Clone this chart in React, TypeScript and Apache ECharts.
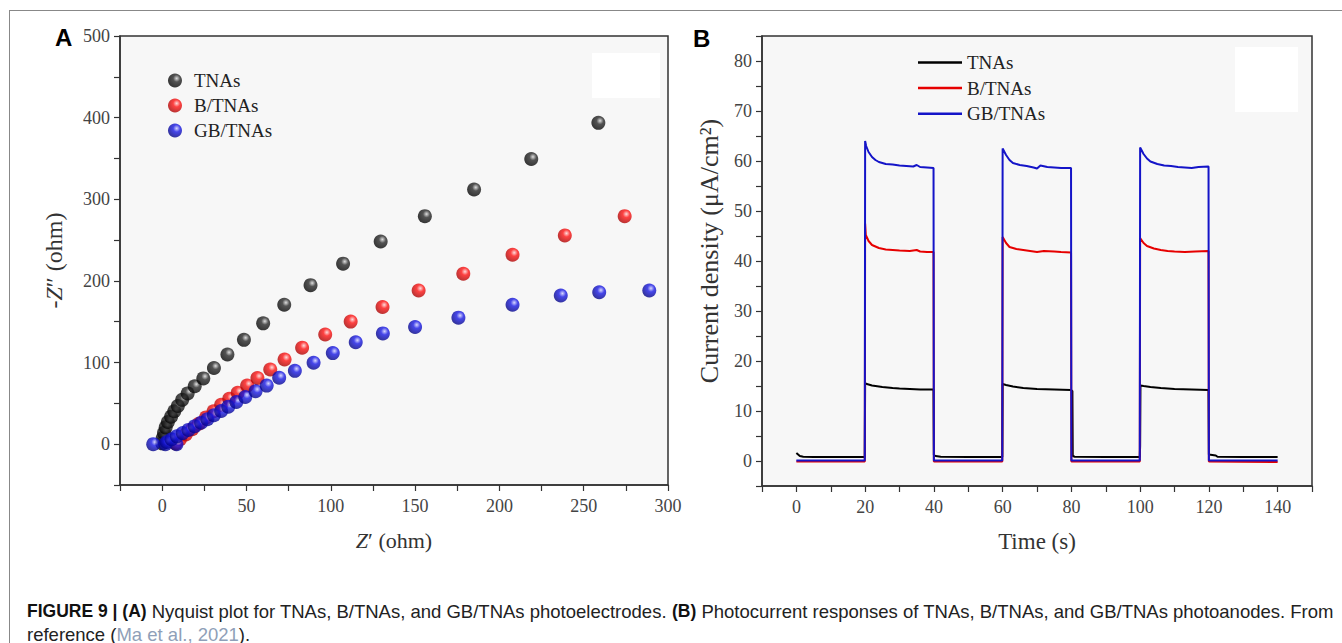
import React, { useEffect, useRef } from 'react';
import * as echarts from 'echarts';

const SERIF = '"Liberation Serif", "Times New Roman", serif';
const SANS = '"Liberation Sans", Arial, sans-serif';

// ---------- Panel A: Nyquist data [Z', -Z''] ----------
const nyqTNAs: [number, number][] = [
  [0, 1], [0.3, 7.4], [1.1, 14], [2.1, 20.6], [3.4, 27.1], [5.3, 33.7], [7.2, 40.3], [9.3, 46.8],
  [11.9, 54.3], [15.1, 62.2], [19.3, 70.9], [24.4, 80.6], [30.7, 93.3], [38.7, 109.9], [48.5, 127.8],
  [59.9, 148], [72.4, 170.8], [88, 194.8], [107.3, 221.1], [129.6, 248.2], [155.8, 279.3], [185, 312],
  [218.9, 349.4], [258.7, 393.6],
];
const nyqBTNAs: [number, number][] = [
  [8, 0.9], [10.6, 6.1], [14, 11.8], [17.8, 18.4], [21.7, 25], [26, 32.8], [30.5, 40.3], [35, 48.2],
  [39.8, 55.6], [44.8, 63], [50.4, 71.8], [56.5, 81], [64.1, 91.5], [72.6, 103.8], [83, 118.2],
  [96.7, 134.4], [111.8, 150.2], [130.7, 168.1], [152.1, 188.3], [178.6, 208.8], [207.8, 232],
  [238.8, 255.7], [274.3, 279.3],
];
const nyqGBTNAs: [number, number][] = [
  [-5.3, 0], [1.9, 0], [8.5, 0], [2.7, 2.6], [5.6, 6.1], [8.7, 9.6], [12.2, 13.6], [15.6, 17.5],
  [19.3, 21.9], [23.1, 26.3], [26.8, 30.6], [30.7, 35.5], [35, 40.7], [39.2, 46], [44, 51.7],
  [49.3, 57.8], [55.4, 64.8], [62, 71.8], [69.4, 81.4], [78.7, 89.8], [89.8, 99.8], [101.2, 111.6],
  [114.8, 124.8], [130.9, 135.7], [150, 143.6], [175.7, 155], [207.8, 170.8], [236.4, 182.1],
  [259.2, 186.1], [288.9, 188.3],
];

// ---------- Panel B: photocurrent [time s, µA/cm²] ----------
const curTNAs: [number, number][] = [
  [0, 1.6], [0.5, 1.3], [1, 1.0], [2, 0.85], [5, 0.8], [10, 0.8], [15, 0.8], [19.9, 0.8],
  [20, 15.6], [20.5, 15.4], [22, 15.1], [25, 14.8], [28, 14.6], [30, 14.5], [33, 14.4], [36, 14.3], [39.9, 14.3],
  [40, 1.2], [40.5, 1.0], [42, 0.85], [50, 0.8], [59.9, 0.8],
  [60, 15.4], [61, 15.2], [63, 14.9], [66, 14.6], [70, 14.4], [75, 14.3], [79.9, 14.2],
  [80.3, 14.0], [80.4, 1.0], [81, 0.85], [90, 0.8], [99.9, 0.8],
  [100, 3.0], [100.1, 15.1], [101, 15.0], [103, 14.8], [106, 14.6], [110, 14.4], [115, 14.3], [119.9, 14.2],
  [120, 1.3], [121, 1.2], [122, 1.1], [122.5, 0.85], [130, 0.8], [140, 0.8],
];
const curBTNAs: [number, number][] = [
  [0, -0.1], [19.9, -0.1],
  [20, 47.5], [20.2, 45.2], [21, 44], [22, 43.2], [24, 42.6], [26, 42.3], [28, 42.2], [30, 42.1],
  [33, 42.0], [35, 42.2], [36, 41.9], [38, 41.8], [39.9, 41.8],
  [40, -0.1], [59.9, -0.1],
  [60, 44.8], [61, 43.6], [62, 42.8], [64, 42.4], [66, 42.2], [68, 42.0], [70, 41.8], [72, 42.0],
  [75, 41.9], [77, 41.8], [79.9, 41.7],
  [80, -0.1], [99.9, -0.1],
  [100, 44.6], [101, 43.6], [102, 43.0], [104, 42.5], [106, 42.2], [108, 42.0], [110, 41.9],
  [113, 41.8], [116, 41.9], [119.9, 42.0],
  [120, -0.1], [140, -0.2],
];
const curGBTNAs: [number, number][] = [
  [0, 0.1], [19.9, 0.1],
  [20, 64], [20.3, 63], [21, 61.8], [22, 60.8], [23, 60.2], [24, 59.8], [26, 59.4], [28, 59.3],
  [30, 59.1], [32, 59.0], [34, 58.9], [35, 59.2], [36, 58.8], [38, 58.7], [39.9, 58.6],
  [40, 0.1], [59.9, 0.1],
  [60, 62.5], [61, 61.2], [62, 60.2], [63, 59.6], [65, 59.2], [67, 59.0], [69, 58.7], [70, 58.5],
  [71, 59.1], [73, 58.8], [75, 58.7], [77, 58.6], [79.9, 58.6],
  [80, 0.1], [99.9, 0.1],
  [100, 62.7], [101, 61.4], [102, 60.5], [103, 59.9], [105, 59.4], [107, 59.1], [109, 59.0],
  [111, 58.8], [113, 58.7], [115, 58.6], [117, 58.8], [119.9, 58.9],
  [120, 0.1], [140, 0.1],
];

const seriesNames = ['TNAs', 'B/TNAs', 'GB/TNAs'];

const sphere = (light: string, base: string, dark: string) => ({
  type: 'radial', x: 0.62, y: 0.35, r: 0.72,
  colorStops: [
    { offset: 0, color: light },
    { offset: 0.35, color: base },
    { offset: 1, color: dark },
  ],
});

const axisCommon = {
  axisLine: { show: true, onZero: false, lineStyle: { color: '#333', width: 1.5 } },
  axisTick: { show: true, length: 6, lineStyle: { color: '#333', width: 1.2 } },
  splitLine: { show: false },
};
const labelStyle = { color: '#444', fontFamily: SERIF, fontSize: 18 };
const nameStyle = (size: number) => ({
  fontFamily: SERIF, fontSize: size, color: '#333',
  rich: { i: { fontStyle: 'italic', fontFamily: SERIF, fontSize: size, color: '#333' } },
});

export default function App() {
  const ref = useRef<HTMLDivElement>(null);
  useEffect(() => {
    document.body.style.margin = '0';
    const chart = echarts.init(ref.current!, undefined, { renderer: 'svg', width: 1342, height: 643 });
    const option: any = {
      animation: false,
      backgroundColor: '#fff',
      grid: [
        { left: 120, right: 674, top: 36, bottom: 158, show: true, backgroundColor: '#f7f7f7', borderColor: '#333', borderWidth: 1.5 },
        { left: 762, right: 30, top: 36, bottom: 157, show: true, backgroundColor: '#f7f7f7', borderColor: '#333', borderWidth: 1.5 },
      ],
      xAxis: [
        {
          gridIndex: 0, type: 'value', min: -25, max: 300, interval: 25, ...axisCommon,
          axisLabel: { ...labelStyle, margin: 12, formatter: (v: number) => (v % 50 === 0 && v >= 0 ? String(v) : '') },
          name: '{i|Z}′ (ohm)', nameLocation: 'middle', nameGap: 44, nameTextStyle: nameStyle(22),
        },
        {
          gridIndex: 1, type: 'value', min: -10, max: 150, interval: 10, ...axisCommon,
          axisLabel: { ...labelStyle, margin: 12, formatter: (v: number) => (v % 20 === 0 && v >= 0 && v <= 140 ? String(v) : '') },
          name: 'Time (s)', nameLocation: 'middle', nameGap: 44, nameTextStyle: nameStyle(23),
        },
      ],
      yAxis: [
        {
          gridIndex: 0, type: 'value', min: -50, max: 500, interval: 50, ...axisCommon,
          axisLabel: { ...labelStyle, margin: 10, formatter: (v: number) => (v % 100 === 0 && v >= 0 ? String(v) : '') },
          name: '-{i|Z}″ (ohm)', nameLocation: 'middle', nameGap: 54, nameTextStyle: nameStyle(24),
        },
        {
          gridIndex: 1, type: 'value', min: -5, max: 85, interval: 5, ...axisCommon,
          axisLabel: { ...labelStyle, margin: 10, formatter: (v: number) => (v % 10 === 0 && v >= 0 && v <= 80 ? String(v) : '') },
          name: 'Current density (μA/cm²)', nameLocation: 'middle', nameGap: 40,
          nameTextStyle: { ...nameStyle(26), padding: [0, 0, 0, 20] },
        },
      ],
      legend: [
        {
          data: seriesNames.map((n) => 'A:' + n), orient: 'vertical', left: 168, top: 71, padding: 0,
          itemWidth: 14, itemHeight: 14, itemGap: 6, icon: 'circle',
          formatter: (n: string) => n.slice(2),
          textStyle: { fontFamily: SERIF, fontSize: 19, lineHeight: 19, color: '#222', padding: [0, 0, 0, 7] },
        },
        {
          data: seriesNames.map((n) => 'B:' + n), orient: 'vertical', left: 918, top: 53, padding: 0,
          itemWidth: 44, itemHeight: 2.5, itemGap: 6.6, icon: 'rect',
          formatter: (n: string) => n.slice(2),
          textStyle: { fontFamily: SERIF, fontSize: 19, lineHeight: 19, color: '#222' },
        },
      ],
      series: [
        { name: 'A:TNAs', type: 'scatter', xAxisIndex: 0, yAxisIndex: 0, data: nyqTNAs, symbolSize: 14, itemStyle: { color: sphere('#d8d8d8', '#2a2a2a', '#000') } },
        { name: 'A:B/TNAs', type: 'scatter', xAxisIndex: 0, yAxisIndex: 0, data: nyqBTNAs, symbolSize: 14, itemStyle: { color: sphere('#ffd6d6', '#ff1414', '#a00000') } },
        { name: 'A:GB/TNAs', type: 'scatter', xAxisIndex: 0, yAxisIndex: 0, data: nyqGBTNAs, symbolSize: 14, itemStyle: { color: sphere('#d0d0ff', '#1a1ae6', '#00007a') } },
        { name: 'B:TNAs', type: 'line', xAxisIndex: 1, yAxisIndex: 1, data: curTNAs, symbol: 'none', lineStyle: { color: '#000', width: 2 }, itemStyle: { color: '#000' } },
        { name: 'B:B/TNAs', type: 'line', xAxisIndex: 1, yAxisIndex: 1, data: curBTNAs, symbol: 'none', lineStyle: { color: '#e60000', width: 2 }, itemStyle: { color: '#e60000' } },
        { name: 'B:GB/TNAs', type: 'line', xAxisIndex: 1, yAxisIndex: 1, data: curGBTNAs, symbol: 'none', lineStyle: { color: '#1414c8', width: 2 }, itemStyle: { color: '#1414c8' } },
      ],
      graphic: [
        { type: 'line', shape: { x1: 9, y1: 10.5, x2: 1342, y2: 10.5 }, style: { stroke: '#888', lineWidth: 1 } },
        { type: 'line', shape: { x1: 9.5, y1: 10, x2: 9.5, y2: 643 }, style: { stroke: '#888', lineWidth: 1 } },
        { type: 'rect', z: 1, shape: { x: 592, y: 53, width: 68, height: 45 }, style: { fill: '#fff' } },
        { type: 'rect', z: 1, shape: { x: 1235, y: 47, width: 63, height: 65 }, style: { fill: '#fff' } },
        { type: 'text', x: 55, y: 37, style: { text: 'A', fontFamily: SANS, fontWeight: 'bold', fontSize: 24, fill: '#000', verticalAlign: 'middle' } },
        { type: 'text', x: 693, y: 38, style: { text: 'B', fontFamily: SANS, fontWeight: 'bold', fontSize: 24, fill: '#000', verticalAlign: 'middle' } },
        {
          type: 'text', x: 27, y: 611,
          style: {
            text: '{b|FIGURE 9 | (A)} Nyquist plot for TNAs, B/TNAs, and GB/TNAs photoelectrodes. {b|(B)} Photocurrent responses of TNAs, B/TNAs, and GB/TNAs photoanodes. From',
            fontFamily: SANS, fontSize: 18.5, fill: '#222', verticalAlign: 'middle',
            rich: { b: { fontFamily: SANS, fontSize: 17.5, fontWeight: 'bold', fill: '#111' } },
          },
        },
        {
          type: 'text', x: 27, y: 634,
          style: {
            text: 'reference ({l|Ma et al., 2021}).',
            fontFamily: SANS, fontSize: 18.5, fill: '#222', verticalAlign: 'middle',
            rich: { l: { fontFamily: SANS, fontSize: 18.5, fill: '#8f9fb8' } },
          },
        },
      ],
    };
    chart.setOption(option);
    return () => chart.dispose();
  }, []);
  return <div ref={ref} style={{ position: 'absolute', left: 0, top: 0, width: 1342, height: 643, background: '#fff' }} />;
}
